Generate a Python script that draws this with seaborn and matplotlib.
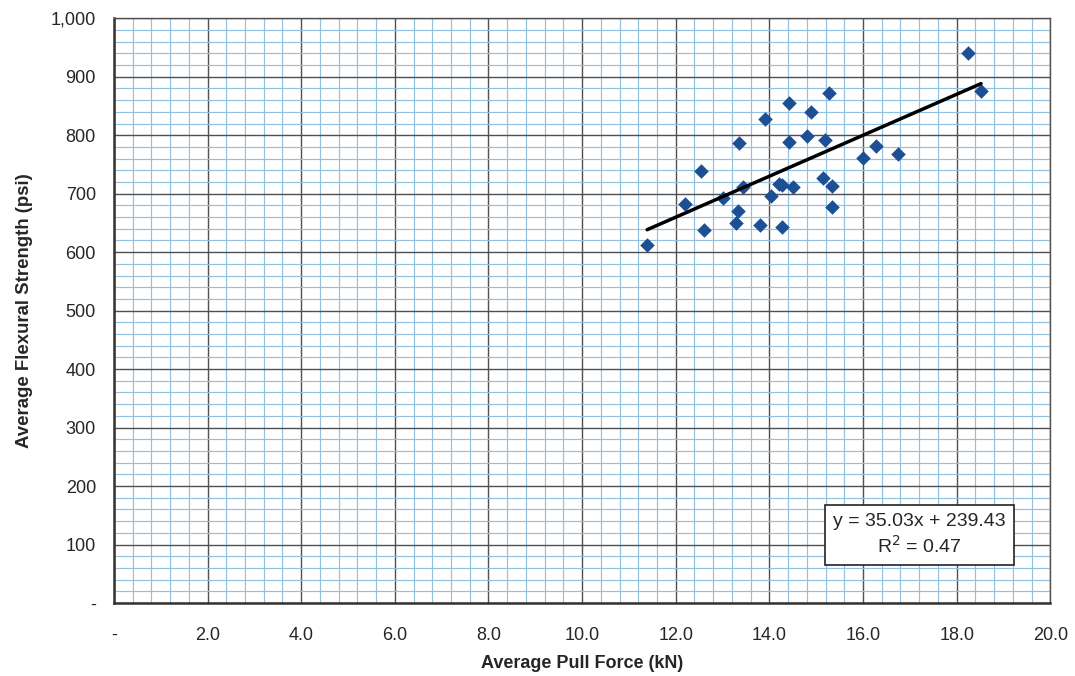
import numpy as np
import pandas as pd
import matplotlib
matplotlib.use("Agg")
import matplotlib.pyplot as plt
from matplotlib.ticker import MultipleLocator, FuncFormatter
import seaborn as sns

# data
pull_force = [11.39, 12.20, 12.54, 12.60, 13.00, 13.35, 13.33, 13.29, 13.44, 13.80,
              13.91, 14.04, 14.20, 14.27, 14.27, 14.42, 14.42, 14.51, 14.80, 14.89,
              15.15, 15.19, 15.28, 15.34, 15.34, 15.99, 16.28, 16.75, 18.25, 18.52]
flexural = [612, 682, 738, 638, 692, 786, 670, 650, 711, 646,
            827, 696, 717, 714, 643, 855, 788, 711, 798, 839,
            726, 791, 872, 713, 677, 761, 781, 767, 940, 875]
slope = 35.03
intercept = 239.43
r_squared = 0.47

df = pd.DataFrame({"Average Pull Force (kN)": pull_force,
                   "Average Flexural Strength (psi)": flexural})

sns.set_theme(style="white")
plt.rcParams["font.family"] = ["Liberation Sans", "DejaVu Sans"]

fig = plt.figure(figsize=(10.75, 6.76), dpi=100)
ax = fig.add_axes([0.106, 0.108, 0.871, 0.865])

# graph paper grid
ax.xaxis.set_major_locator(MultipleLocator(2))
ax.xaxis.set_minor_locator(MultipleLocator(0.4))
ax.yaxis.set_major_locator(MultipleLocator(100))
ax.yaxis.set_minor_locator(MultipleLocator(20))
ax.grid(True, which="minor", color="#94c0df", linewidth=0.85, zorder=0)
ax.grid(True, which="major", color="#505050", linewidth=1.0, zorder=1)
ax.set_axisbelow(True)

sns.scatterplot(data=df, x="Average Pull Force (kN)", y="Average Flexural Strength (psi)",
                marker="D", s=55, color="#1c4f93", edgecolor="#1c4f93", linewidth=0,
                ax=ax, zorder=3)

# trendline over the data range
xs = np.array([min(pull_force), max(pull_force)])
sns.lineplot(x=xs, y=slope * xs + intercept, color="black", linewidth=2.5, ax=ax, zorder=4)

ax.text(17.2, 116, f"y = {slope:.2f}x + {intercept:.2f}\nR$^2$ = {r_squared:.2f}",
        ha="center", va="center", multialignment="center", fontsize=14, linespacing=1.25,
        bbox=dict(boxstyle="square,pad=0.42", facecolor="white", edgecolor="#222222", linewidth=1.2),
        zorder=5)

ax.set_xlim(0, 20)
ax.set_ylim(0, 1000)
ax.xaxis.set_major_formatter(FuncFormatter(lambda v, p: "-" if v == 0 else f"{v:.1f}"))
ax.yaxis.set_major_formatter(FuncFormatter(lambda v, p: "-" if v == 0 else f"{v:,.0f}"))
ax.tick_params(axis="both", which="major", direction="out", length=5, width=1.2,
               color="#333333", labelsize=13, pad=8)
ax.tick_params(axis="both", which="minor", length=0)
ax.tick_params(axis="x", pad=12)

for side in ["left", "bottom"]:
    ax.spines[side].set_color("#333333")
    ax.spines[side].set_linewidth(1.8)
for side in ["top", "right"]:
    ax.spines[side].set_color("#505050")
    ax.spines[side].set_linewidth(1.0)

ax.set_xlabel("Average Pull Force (kN)", fontsize=13, fontweight="bold", labelpad=8)
ax.set_ylabel("Average Flexural Strength (psi)", fontsize=13.4, fontweight="bold", labelpad=13)

fig.savefig("out.png", dpi=100)
